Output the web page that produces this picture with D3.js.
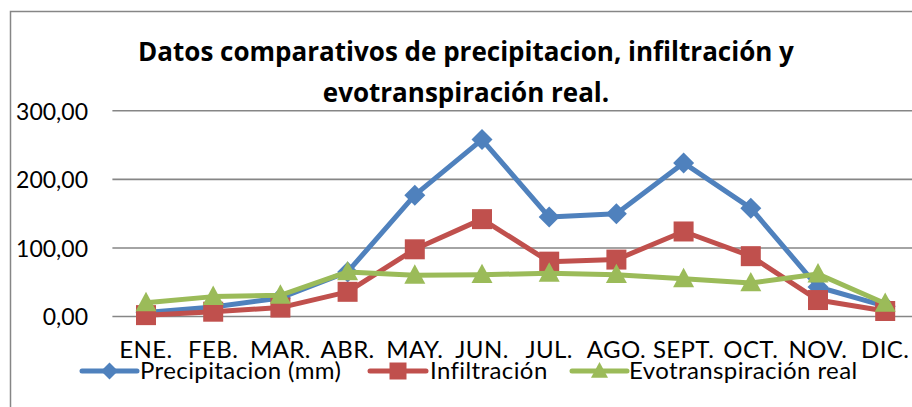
<!DOCTYPE html>
<html>
<head>
<meta charset="utf-8">
<script src="https://cdn.jsdelivr.net/npm/d3@7"></script>
<style>
  html, body { margin: 0; padding: 0; background: #fff; }
  svg { display: block; }
  text { font-family: Lato, "Open Sans", sans-serif; fill: #000; }
</style>
</head>
<body>
<svg id="chart" width="912" height="407"></svg>
<script>
// Monthly labels
const months = ["ENE.", "FEB.", "MAR.", "ABR.", "MAY.", "JUN.", "JUL.", "AGO.", "SEPT.", "OCT.", "NOV.", "DIC."];
// Series values (mm)
const precipitacion = [6, 14, 27, 65, 177, 258, 145, 150, 224, 158, 43, 15];
const infiltracion = [2, 7, 13, 36, 98, 142, 80, 83, 124, 88, 24, 8];
const evotranspiracion = [20, 29, 31, 65, 60, 61, 63, 61, 55, 49, 62, 19];
// Axis ticks
const yTicks = [0, 100, 200, 300];
const titleLines = ["Datos comparativos de precipitacion, infiltración y", "evotranspiración real."];

const seriesList = [
  { name: "Precipitacion (mm)", values: precipitacion, color: "#4F81BD", marker: "diamond" },
  { name: "Infiltración", values: infiltracion, color: "#C0504D", marker: "square" },
  { name: "Evotranspiración real", values: evotranspiracion, color: "#9BBB59", marker: "triangle" }
];

const svg = d3.select("#chart");
const gridColor = "#868686";

// Chart frame (extends past the visible window on the right and bottom)
svg.append("rect")
  .attr("x", 10.5).attr("y", 11.5)
  .attr("width", 1200).attr("height", 1200)
  .attr("fill", "none").attr("stroke", gridColor).attr("stroke-width", 1.5);

const x = d3.scaleBand().domain(months).range([112.4, 918.8]);
const y = d3.scaleLinear().domain([0, 300]).range([316.5, 110.8]);
const fmt = v => d3.format(".2f")(v).replace(".", ",");

// Horizontal gridlines
svg.append("g")
  .selectAll("line").data(yTicks).join("line")
  .attr("x1", 112.4).attr("x2", 918.8)
  .attr("y1", d => y(d)).attr("y2", d => y(d))
  .attr("stroke", gridColor).attr("stroke-width", 1.6);

// Y axis labels
const yAxis = d3.axisLeft(y).tickValues(yTicks).tickFormat(fmt).tickSize(0).tickPadding(0);
const gy = svg.append("g").attr("transform", "translate(88,0)").call(yAxis);
gy.select(".domain").remove();
gy.selectAll("text").attr("font-size", 23).style("font-family", "Lato, sans-serif").attr("fill", "#000").attr("dy", "0.36em");

// X axis labels
const xAxis = d3.axisBottom(x).tickSize(0).tickPadding(0);
const gx = svg.append("g").attr("transform", "translate(0,341)").call(xAxis);
gx.select(".domain").remove();
gx.selectAll("text").attr("font-size", 24).style("font-family", "Lato, sans-serif")
  .style("letter-spacing", "0.4px").attr("fill", "#000").attr("dy", "0.71em");

// Marker shapes
function markerPath(type, s) {
  const h = s / 2;
  if (type === "diamond") return `M0,${-h}L${h},0L0,${h}L${-h},0Z`;
  if (type === "square") return `M${-h},${-h}H${h}V${h}H${-h}Z`;
  return `M0,${-h * 1.05}L${h},${h * 0.8}L${-h},${h * 0.8}Z`;
}
const markerSize = { diamond: 21, square: 20, triangle: 21 };

const line = d3.line().x((d, i) => x(months[i]) + x.bandwidth() / 2).y(d => y(d));

seriesList.forEach(s => {
  const g = svg.append("g");
  g.append("path").datum(s.values)
    .attr("d", line)
    .attr("fill", "none").attr("stroke", s.color)
    .attr("stroke-width", 5).attr("stroke-linejoin", "round");
  g.selectAll("path.mk").data(s.values).join("path")
    .attr("class", "mk")
    .attr("transform", (d, i) => `translate(${x(months[i]) + x.bandwidth() / 2},${y(d)})`)
    .attr("d", markerPath(s.marker, markerSize[s.marker]))
    .attr("fill", s.color);
});

// Title
svg.append("text")
  .attr("x", 466).attr("text-anchor", "middle")
  .attr("font-size", 26).attr("font-weight", "bold")
  .style("font-family", "'Open Sans', sans-serif")
  .selectAll("tspan").data(titleLines).join("tspan")
  .attr("x", 466).attr("y", (d, i) => 61 + i * 41)
  .text(d => d);

// Legend
const legendItems = [
  { x1: 82, x2: 137, tx: 140 },
  { x1: 370, x2: 426, tx: 430 },
  { x1: 572, x2: 627, tx: 629 }
];
const ly = 371;
seriesList.forEach((s, i) => {
  const L = legendItems[i];
  const g = svg.append("g");
  g.append("line").attr("x1", L.x1).attr("x2", L.x2).attr("y1", ly).attr("y2", ly)
    .attr("stroke", s.color).attr("stroke-width", 5).attr("stroke-linecap", "round");
  g.append("path").attr("transform", `translate(${(L.x1 + L.x2) / 2},${ly})`)
    .attr("d", markerPath(s.marker, 17)).attr("fill", s.color);
  g.append("text").attr("x", L.tx).attr("y", 379).attr("font-size", 24)
    .style("letter-spacing", "0.4px").text(s.name);
});
</script>
</body>
</html>
